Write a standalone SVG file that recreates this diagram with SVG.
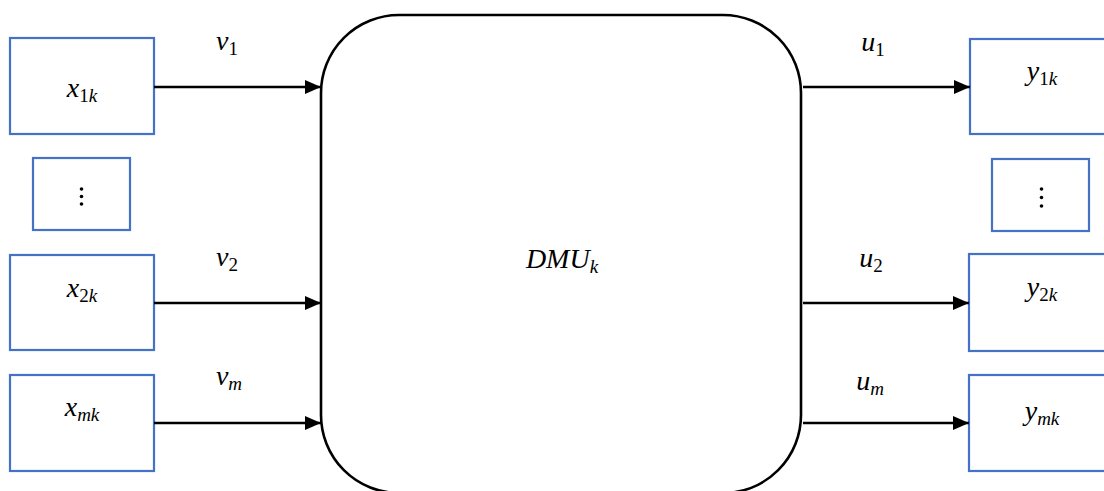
<svg xmlns="http://www.w3.org/2000/svg" width="1104" height="491" viewBox="0 0 1104 491">
  <defs>
    <marker id="arrow" markerWidth="16" markerHeight="14" refX="16" refY="7" orient="auto" markerUnits="userSpaceOnUse">
      <path d="M0,0 L16,7 L0,14 Z" fill="#000"/>
    </marker>
    <style>
      .box { fill: #fff; stroke: #4472C4; stroke-width: 2.2; }
      .dmu { fill: #fff; stroke: #000; stroke-width: 2.6; }
      .edge { stroke: #000; stroke-width: 2.6; fill: none; marker-end: url(#arrow); }
      .m { font-family: "Liberation Serif", "DejaVu Serif", serif; font-style: italic; font-size: 28px; fill: #000; text-anchor: middle; }
      .sub { font-size: 19px; }
      .up { font-style: normal; }
      .dots { fill: #000; }
    </style>
  </defs>

  <rect width="1104" height="491" fill="#fff"/>

  <!-- central unit -->
  <g id="dmu">
    <rect class="dmu" x="321" y="15" width="480" height="478" rx="78" ry="78"/>
    <text class="m" x="562" y="268">DMU<tspan class="sub" dy="5">k</tspan></text>
  </g>

  <!-- inputs -->
  <g id="x1k">
    <rect class="box" x="10" y="38" width="144" height="96"/>
    <text class="m" x="82" y="97">x<tspan class="sub" dy="5"><tspan class="up">1</tspan>k</tspan></text>
  </g>
  <g id="x-dots">
    <rect class="box" x="33" y="158" width="97" height="72"/>
    <circle class="dots" cx="81.5" cy="189" r="1.8"/>
    <circle class="dots" cx="81.5" cy="196.5" r="1.8"/>
    <circle class="dots" cx="81.5" cy="204" r="1.8"/>
  </g>
  <g id="x2k">
    <rect class="box" x="10" y="255" width="144" height="95"/>
    <text class="m" x="82" y="297">x<tspan class="sub" dy="5"><tspan class="up">2</tspan>k</tspan></text>
  </g>
  <g id="xmk">
    <rect class="box" x="10" y="375" width="144" height="96"/>
    <text class="m" x="82" y="416">x<tspan class="sub" dy="5">mk</tspan></text>
  </g>

  <!-- outputs -->
  <g id="y1k">
    <rect class="box" x="970" y="39" width="144" height="95"/>
    <text class="m" x="1042" y="80">y<tspan class="sub" dy="5"><tspan class="up">1</tspan>k</tspan></text>
  </g>
  <g id="y-dots">
    <rect class="box" x="992" y="159" width="97" height="72"/>
    <circle class="dots" cx="1041.5" cy="189" r="1.8"/>
    <circle class="dots" cx="1041.5" cy="197.5" r="1.8"/>
    <circle class="dots" cx="1041.5" cy="206" r="1.8"/>
  </g>
  <g id="y2k">
    <rect class="box" x="969" y="254" width="145" height="97"/>
    <text class="m" x="1042" y="296">y<tspan class="sub" dy="5"><tspan class="up">2</tspan>k</tspan></text>
  </g>
  <g id="ymk">
    <rect class="box" x="969" y="375" width="145" height="96"/>
    <text class="m" x="1042" y="420">y<tspan class="sub" dy="5">mk</tspan></text>
  </g>

  <!-- connectors -->
  <g id="connectors">
    <line class="edge" x1="154" y1="87" x2="321" y2="87"/>
    <line class="edge" x1="154" y1="303" x2="321" y2="303"/>
    <line class="edge" x1="154" y1="423" x2="321" y2="423"/>
    <line class="edge" x1="803" y1="87" x2="970" y2="87"/>
    <line class="edge" x1="803" y1="303" x2="969" y2="303"/>
    <line class="edge" x1="803" y1="423" x2="969" y2="423"/>

    <text class="m" x="227" y="50">v<tspan class="sub up" dy="5">1</tspan></text>
    <text class="m" x="227" y="266">v<tspan class="sub up" dy="5">2</tspan></text>
    <text class="m" x="229" y="385">v<tspan class="sub" dy="5">m</tspan></text>
    <text class="m" x="873" y="51">u<tspan class="sub up" dy="5">1</tspan></text>
    <text class="m" x="871" y="267">u<tspan class="sub up" dy="5">2</tspan></text>
    <text class="m" x="870" y="390">u<tspan class="sub" dy="5">m</tspan></text>
  </g>
</svg>
